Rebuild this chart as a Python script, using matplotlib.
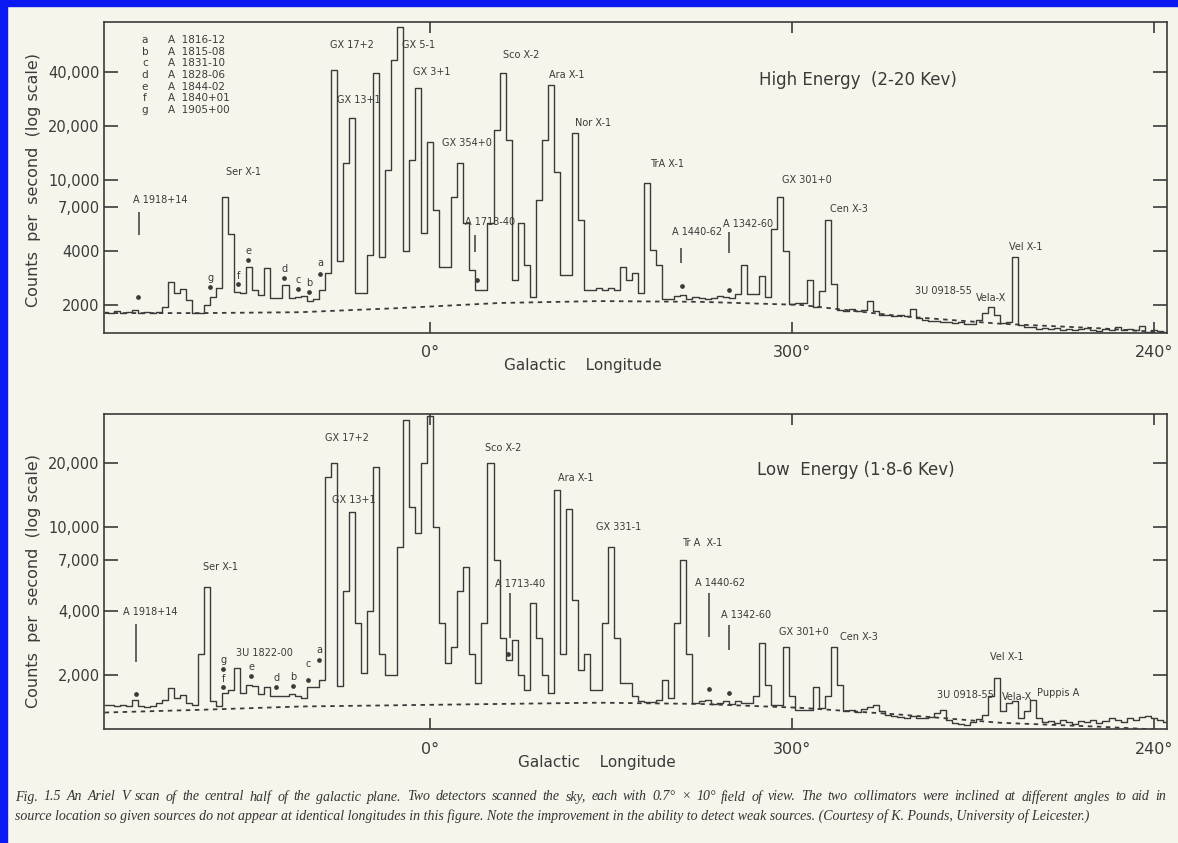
import matplotlib
matplotlib.use("Agg")
import matplotlib.pyplot as plt
import matplotlib.patches as mpatches
from matplotlib.ticker import FixedLocator, NullLocator
import numpy as np

W, H = 1178, 843
BG = '#f6f5ec'
INK = '#3a3a3a'
BLUE = '#0a18f2'

# galactic longitude of each 1 degree bin, running from l=54 through 0 to l=238 (-122)
lon = np.arange(54, -123, -1)

# High energy (2-20 keV) counts per second
hi_cts = [1820, 1800, 1840, 1800, 1820, 1870, 1800, 1820, 1800, 1820,
          1950, 2690, 2330, 2450, 2130, 1800, 1800, 2000, 2210, 2500,
          8000, 5000, 2360, 2330, 3260, 2420, 2270, 3210, 2180, 2180,
          2580, 2180, 2200, 2240, 2100, 2150, 2420, 3000, 41000, 3500,
          12400, 22100, 2330, 2330, 3800, 39500, 3700, 11300, 46700, 71400,
          4000, 12900, 32600, 5040, 16300, 6800, 3260, 3260, 8000, 12400,
          5730, 3130, 2420, 2420, 5730, 19000, 39500, 16700, 2760, 5730,
          3340, 2210, 7700, 16700, 33800, 11000, 2940, 2940, 18200, 5960,
          2420, 2420, 2480, 2420, 2480, 2420, 3260, 2760, 3010, 2330,
          9600, 4050, 3340, 2160, 2160, 2240, 2270, 2160, 2210, 2180,
          2160, 2180, 2240, 2210, 2180, 2300, 3340, 2300, 2300, 2900,
          2200, 5300, 8000, 4000, 2020, 2050, 2050, 2760, 1950, 2400,
          5960, 2600, 1870, 1850, 1900, 1850, 1870, 2100, 1850, 1750,
          1760, 1740, 1750, 1730, 1900, 1700, 1650, 1630, 1620, 1600,
          1600, 1580, 1600, 1560, 1560, 1650, 1800, 1950, 1750, 1580,
          1600, 3700, 1550, 1500, 1500, 1470, 1490, 1460, 1480, 1450,
          1470, 1440, 1460, 1480, 1450, 1430, 1460, 1440, 1500, 1450,
          1470, 1440, 1520, 1420, 1450, 1430, 1420]

# Low energy (1.8-6 keV) counts per second
lo_cts = [1440, 1440, 1430, 1440, 1430, 1530, 1430, 1420, 1430, 1480,
          1520, 1740, 1560, 1610, 1480, 1440, 2500, 5200, 1500, 1430,
          1650, 1700, 2160, 1640, 1800, 1770, 1620, 1750, 1600, 1590,
          1590, 1620, 1600, 1560, 1750, 1750, 1900, 17200, 20000, 1770,
          5000, 11700, 3500, 2040, 4000, 19100, 2500, 2000, 2000, 8000,
          31900, 12400, 9350, 20000, 33200, 10000, 3500, 2280, 2700, 5000,
          6460, 2500, 1830, 3500, 20000, 7000, 3000, 2350, 2930, 2000,
          1700, 4370, 3000, 2000, 1640, 14900, 2500, 12200, 4500, 2110,
          2500, 1700, 1700, 3500, 8020, 3000, 1830, 1830, 1600, 1500,
          1490, 1490, 1520, 1890, 1550, 3500, 6970, 2500, 1480, 1500,
          1520, 1460, 1480, 1500, 1460, 1500, 1470, 1480, 1600, 2830,
          1800, 1440, 1440, 2720, 1600, 1370, 1370, 1370, 1750, 1400,
          1600, 2720, 1800, 1350, 1360, 1340, 1380, 1420, 1440, 1350,
          1300, 1280, 1270, 1260, 1280, 1260, 1250, 1270, 1330, 1370,
          1230, 1190, 1180, 1160, 1200, 1240, 1300, 1600, 1940, 1350,
          1480, 1500, 1250, 1350, 1520, 1250, 1200, 1210, 1190, 1220,
          1200, 1180, 1210, 1200, 1230, 1190, 1210, 1250, 1220, 1200,
          1260, 1230, 1270, 1280, 1250, 1220, 1200]

# background model (dashed)
base_lon = [54, 38, 21.6, 5, -11.6, -28, -44.8, -61.4, -78, -94.5, -111, -122.2]
hi_base = [1800, 1800, 1820, 1920, 2050, 2100, 2080, 2000, 1730, 1570, 1480, 1400]
lo_base = [1330, 1370, 1420, 1440, 1460, 1480, 1460, 1400, 1300, 1190, 1140, 1100]

hi_yticks = [40000, 20000, 10000, 7000, 4000, 2000]
hi_ylabels = ['40,000', '20,000', '10,000', '7,000', '4000', '2000']
lo_yticks = [20000, 10000, 7000, 4000, 2000]
lo_ylabels = ['20,000', '10,000', '7,000', '4,000', '2,000']
xticks = [0, -60, -120]
xlabels = ['0°', '300°', '240°']

key_letters = ['a', 'b', 'c', 'd', 'e', 'f', 'g']
key_names = ['A  1816-12', 'A  1815-08', 'A  1831-10', 'A  1828-06',
             'A  1844-02', 'A  1840+01', 'A  1905+00']

# source labels: (text, longitude, counts)
hi_labels = [('A 1918+14', 44.8, 7700), ('Ser X-1', 31.0, 11000),
             ('GX 17+2', 12.9, 56600), ('GX 13+1', 11.9, 27900),
             ('GX 5-1', 2.0, 56600), ('GX 3+1', -0.3, 40000),
             ('GX 354+0', -6.1, 16000), ('A 1713-40', -10.0, 5810),
             ('Sco X-2', -15.1, 49800), ('Ara X-1', -22.6, 38500),
             ('Nor X-1', -27.0, 20800), ('TrA X-1', -39.3, 12200),
             ('A 1440-62', -44.3, 5110), ('A 1342-60', -52.7, 5660),
             ('GX 301+0', -62.4, 9970), ('Cen X-3', -69.5, 6870),
             ('3U 0918-55', -85.1, 2390), ('Vela-X', -93.0, 2180),
             ('Vel X-1', -98.7, 4210),
             ('g', 36.5, 2830), ('f', 31.8, 2900), ('e', 30.2, 4000),
             ('d', 24.2, 3170), ('c', 21.9, 2760), ('b', 20.1, 2660),
             ('a', 18.2, 3430)]
hi_dots_lon = [48.4, 36.5, 31.8, 30.2, 24.2, 21.9, 20.1, 18.2, -7.8, -41.8, -49.6]
hi_dots_cts = [2210, 2520, 2620, 3570, 2830, 2450, 2360, 2980, 2750, 2550, 2420]
hi_bars = [(48.3, 4910, 6610), (-7.5, 3950, 4910), (-41.6, 3430, 4160), (-49.6, 3900, 5130)]

lo_labels = [('A 1918+14', 46.4, 3960), ('Ser X-1', 34.8, 6460),
             ('3U 1822-00', 27.5, 2540),
             ('GX 17+2', 13.8, 26200), ('GX 13+1', 12.6, 13400),
             ('Sco X-2', -12.1, 23500), ('A 1713-40', -14.9, 5370),
             ('Ara X-1', -24.2, 17000), ('GX 331-1', -31.3, 9980),
             ('Tr A  X-1', -45.1, 8390), ('A 1440-62', -48.1, 5430),
             ('A 1342-60', -52.4, 3840), ('GX 301+0', -61.9, 3190),
             ('Cen X-3', -71.1, 3020), ('Vel X-1', -95.7, 2430),
             ('3U 0918-55', -88.7, 1610), ('Vela-X', -97.3, 1580),
             ('Puppis A', -104.1, 1640),
             ('g', 34.3, 2350), ('f', 34.3, 1920), ('e', 29.7, 2180),
             ('d', 25.5, 1940), ('b', 22.7, 1960), ('c', 20.2, 2250),
             ('a', 18.4, 2620)]
lo_dots_lon = [48.8, 34.3, 34.3, 29.7, 25.5, 22.7, 20.2, 18.4, -12.9, -46.3, -49.6]
lo_dots_cts = [1630, 2130, 1750, 1980, 1750, 1770, 1890, 2350, 2510, 1720, 1640]
lo_bars = [(48.8, 2300, 3480), (-13.3, 2990, 4870), (-46.3, 3020, 4870), (-49.6, 2620, 3440)]

caption_1 = ("Fig. 1.5 An Ariel V scan of the central half of the galactic plane. Two detectors "
             "scanned the sky, each with 0.7° × 10° field of view. The two collimators were inclined "
             "at different angles to aid in")
caption_2 = ("source location so given sources do not appear at identical longitudes in this "
             "figure. Note the improvement in the ability to detect weak sources. "
             "(Courtesy of K. Pounds, University of Leicester.)")

plt.rcParams['font.family'] = ['DejaVu Sans']

fig = plt.figure(figsize=(W / 100, H / 100), dpi=100, facecolor=BG)

# blue scan frame
fig.add_artist(mpatches.Rectangle((0, 0), 7 / W, 1, transform=fig.transFigure,
                                  color=BLUE, zorder=10))
fig.add_artist(mpatches.Rectangle((0, 1 - 6 / H), 1, 6 / H, transform=fig.transFigure,
                                  color=BLUE, zorder=10))


def panel(rect, cts, base, ylim, yticks, ylabels, labels, dots_lon, dots_cts, bars):
    ax = fig.add_axes(rect)
    ax.set_facecolor(BG)
    ax.step(lon, cts, where='mid', color=INK, lw=1.0)
    ax.plot(base_lon, base, color=INK, lw=1.3, ls=(0, (2.5, 2.5)))
    ax.plot(dots_lon, dots_cts, 'o', ms=2.4, color=INK)
    for l, c0, c1 in bars:
        ax.vlines(l, c0, c1, color=INK, lw=1.1)
    for txt, l, c in labels:
        ax.text(l, c, txt, fontsize=7, color=INK, ha='center', va='center')
    ax.set_yscale('log')
    ax.set_ylim(*ylim)
    ax.set_xlim(54.1, -122.2)
    ax.yaxis.set_major_locator(FixedLocator(yticks))
    ax.yaxis.set_minor_locator(NullLocator())
    ax.set_yticklabels(ylabels)
    ax.set_xticks(xticks)
    ax.set_xticklabels(xlabels)
    ax.tick_params(direction='in', length=10, width=1.2, colors=INK,
                   left=True, right=True, top=True, bottom=True, labelsize=10.5)
    ax.tick_params(axis='x', length=8, pad=9, labelsize=11.5)
    ax.tick_params(axis='y', pad=3)
    for s in ax.spines.values():
        s.set_color(INK)
        s.set_linewidth(1.2)
    return ax


ax1 = panel([104 / W, 1 - 333 / H, 1063 / W, 311 / H], hi_cts, hi_base, (1393, 76100),
            hi_yticks, hi_ylabels, hi_labels, hi_dots_lon, hi_dots_cts, hi_bars)
ax2 = panel([104 / W, 1 - 729 / H, 1063 / W, 315 / H], lo_cts, lo_base, (1112, 34100),
            lo_yticks, lo_ylabels, lo_labels, lo_dots_lon, lo_dots_cts, lo_bars)

# key of weak sources
for i, (k, n) in enumerate(zip(key_letters, key_names)):
    y = 0.942 - 0.0375 * i
    ax1.text(0.0386, y, k, transform=ax1.transAxes, fontsize=7.5, color=INK,
             ha='center', va='center')
    ax1.text(0.060, y, n, transform=ax1.transAxes, fontsize=7.5, color=INK,
             ha='left', va='center')

ax1.text(0.709, 0.813, 'High Energy  (2-20 Kev)', transform=ax1.transAxes,
         fontsize=12, color=INK, ha='center', va='center')
ax2.text(0.707, 0.822, 'Low  Energy (1·8-6 Kev)', transform=ax2.transAxes,
         fontsize=12, color=INK, ha='center', va='center')

for yc, xc in [(366, 583), (763, 597)]:
    fig.text(xc / W, 1 - yc / H, 'Galactic    Longitude', fontsize=11, color=INK,
             ha='center', va='center')
for yc in [180, 581]:
    fig.text(34 / W, 1 - yc / H, 'Counts  per  second  (log scale)', fontsize=11.5,
             color=INK, rotation=90, ha='center', va='center')

# caption: first line justified between x=15 and x=1166, second line ragged
cap_kw = dict(fontsize=10.0, family='Liberation Serif', style='italic',
              color='#333333', va='center')
renderer = fig.canvas.get_renderer()
words = caption_1.split(' ')
arts = [fig.text(0, 1 - 797 / H, w, ha='left', **cap_kw) for w in words]
widths = [a.get_window_extent(renderer).width for a in arts]
gap = (1166 - 15 - sum(widths)) / (len(words) - 1)
x = 15
for a, w in zip(arts, widths):
    a.set_x(x / W)
    x += w + gap
fig.text(15 / W, 1 - 816 / H, caption_2, ha='left', **cap_kw)

fig.savefig('out.png', dpi=100, facecolor=BG)
